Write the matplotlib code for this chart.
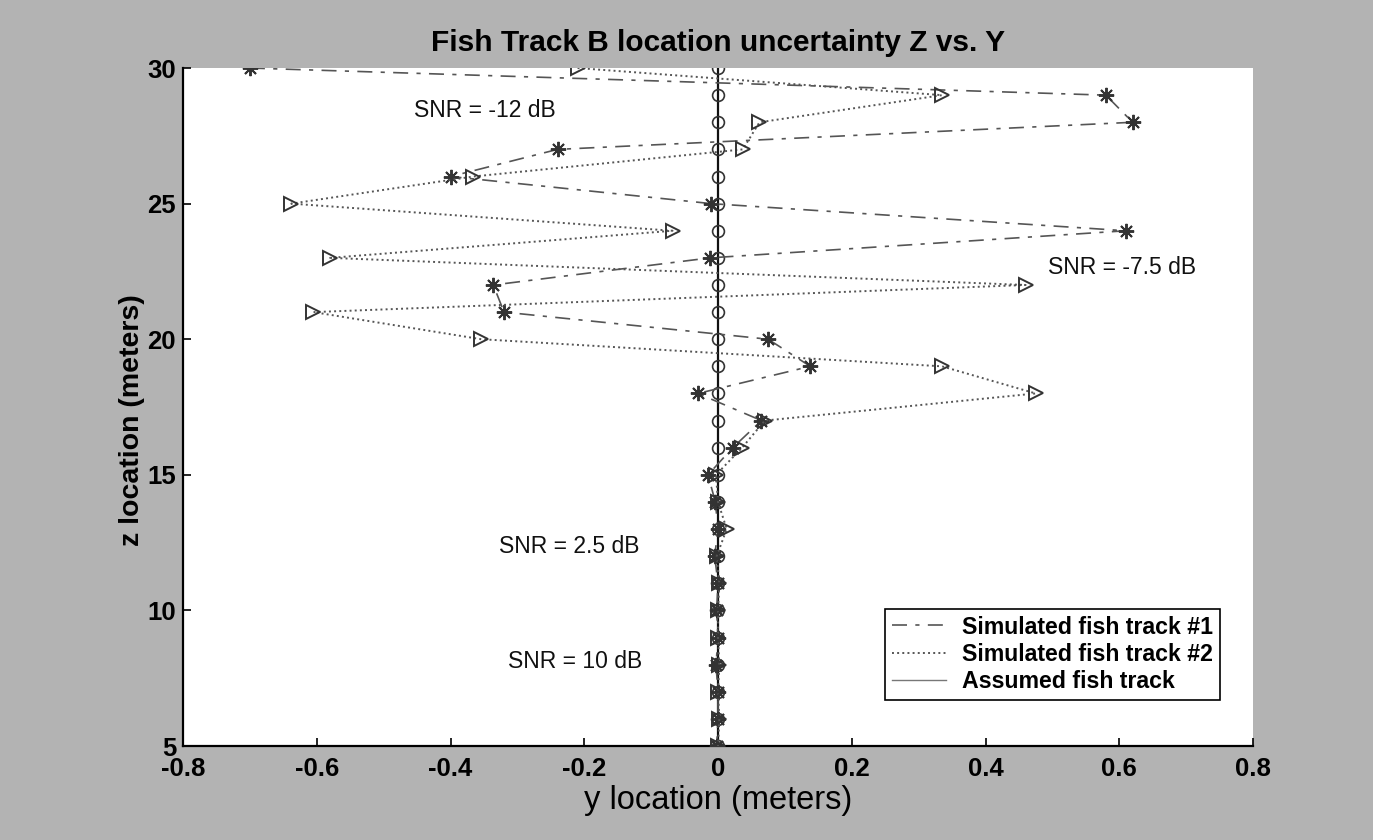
"""
Fish track B location uncertainty, z vs. y
"""
import matplotlib
matplotlib.use('Agg')
import matplotlib.pyplot as plt
from matplotlib.lines import Line2D

# depth (z, meters) of each track point, top to bottom
z_vals = [30, 29, 28, 27, 26, 25, 24, 23, 22, 21, 20, 19, 18,
          17, 16, 15, 14, 13, 12, 11, 10, 9, 8, 7, 6, 5]

# lateral position (y, meters)
track1_y = [-0.70, 0.58, 0.62, -0.24, -0.40, -0.01, 0.61, -0.012, -0.336, -0.32,
            0.075, 0.138, -0.03, 0.065, 0.022, -0.015, -0.004, 0.0, -0.005, 0.0,
            -0.002, 0.0, -0.003, 0.0, 0.0, -0.002]
track2_y = [-0.21, 0.335, 0.062, 0.037, -0.366, -0.638, -0.068, -0.58, 0.46, -0.605,
            -0.354, 0.335, 0.475, 0.07, 0.036, -0.003, 0.0, 0.013, -0.002, 0.002,
            0.0, 0.0, 0.002, 0.0, 0.002, 0.0]
assumed_y = [0.0] * len(z_vals)

series_labels = ['Simulated fish track #1', 'Simulated fish track #2', 'Assumed fish track']

# SNR annotations: (text, y, z)
snr_notes = [('SNR = -12 dB', -0.348, 28.45),
             ('SNR = -7.5 dB', 0.604, 22.63),
             ('SNR = 2.5 dB', -0.223, 12.37),
             ('SNR = 10 dB', -0.214, 8.13)]

x_ticks = [-0.8, -0.6, -0.4, -0.2, 0, 0.2, 0.4, 0.6, 0.8]
x_ticklabels = ['-0.8', '-0.6', '-0.4', '-0.2', '0', '0.2', '0.4', '0.6', '0.8']
y_ticks = [5, 10, 15, 20, 25, 30]

plt.rcParams['font.family'] = ['Liberation Sans', 'DejaVu Sans']

fig = plt.figure(figsize=(13.73, 8.40), dpi=100, facecolor='#b3b3b3')
ax = fig.add_axes([0.1333, 0.1119, 0.7793, 0.8071])
ax.set_facecolor('white')

track_color = '#555555'
dashdot = (0, (9, 5, 2.5, 5))

# Track 1: dash-dot line with asterisks
ax.plot(track1_y, z_vals, linestyle=dashdot, color=track_color, linewidth=1.2,
        marker=(8, 2, 0), markersize=11, markeredgewidth=1.4,
        markeredgecolor='#333333', zorder=3)

# Track 2: dotted line with open triangles
ax.plot(track2_y, z_vals, linestyle=':', color=track_color, linewidth=1.4,
        marker='>', markersize=10, markerfacecolor='none', markeredgewidth=1.4,
        markeredgecolor='#333333', zorder=3)

# Assumed track: solid line with open circles
ax.plot(assumed_y, z_vals, linestyle='-', color='#111111', linewidth=1.6,
        marker='o', markersize=8.5, markerfacecolor='none', markeredgewidth=1.2,
        markeredgecolor='#333333', zorder=2)

for txt, xv, zv in snr_notes:
    ax.text(xv, zv, txt, ha='center', va='center', fontsize=16.5, color='#111111')

ax.set_xlim(-0.8, 0.8)
ax.set_ylim(5, 30)
ax.set_xticks(x_ticks)
ax.set_xticklabels(x_ticklabels)
ax.set_yticks(y_ticks)

for side in ['top', 'right']:
    ax.spines[side].set_visible(False)
for side in ['left', 'bottom']:
    ax.spines[side].set_linewidth(1.6)
    ax.spines[side].set_color('black')

ax.tick_params(direction='in', length=6, width=1.2, labelsize=18.5)
ax.tick_params(axis='x', pad=8)
ax.tick_params(axis='y', pad=5)
for lbl in ax.get_xticklabels() + ax.get_yticklabels():
    lbl.set_fontweight('bold')

ax.set_title('Fish Track B location uncertainty Z vs. Y', fontsize=21.5,
             fontweight='bold', pad=12)
ax.set_xlabel('y location (meters)', fontsize=23.5)
ax.set_ylabel('z location (meters)', fontsize=20.5, fontweight='bold')
ax.xaxis.set_label_coords(0.5, -0.058)
ax.yaxis.set_label_coords(-0.036, 0.48)

# Legend shows line styles only
handles = [
    Line2D([], [], linestyle=dashdot, color=track_color, linewidth=1.2),
    Line2D([], [], linestyle=':', color=track_color, linewidth=1.4),
    Line2D([], [], linestyle='-', color='#777777', linewidth=1.0),
]
leg = ax.legend(handles, series_labels, loc='lower right',
                bbox_to_anchor=(0.969, 0.068), borderaxespad=0,
                prop={'size': 16.7, 'weight': 'bold'}, handlelength=2.3,
                handletextpad=0.7, labelspacing=0.18, borderpad=0.3,
                fancybox=False, framealpha=1)
leg.get_frame().set_edgecolor('black')
leg.get_frame().set_linewidth(1.2)

plt.savefig('out.png', dpi=100, facecolor=fig.get_facecolor())
plt.close()
